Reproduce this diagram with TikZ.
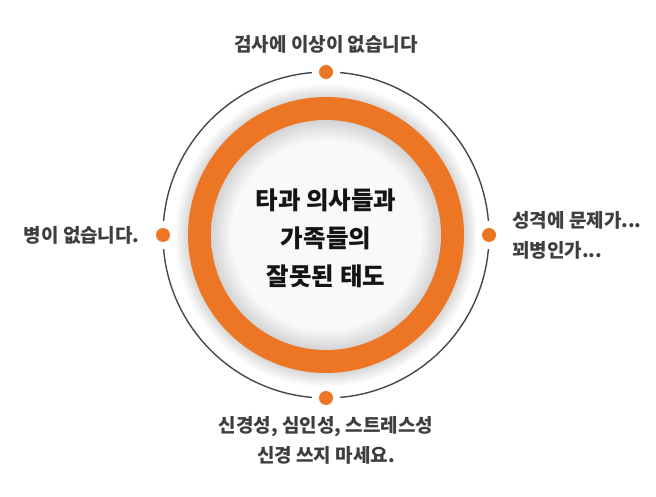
\documentclass[tikz,border=0pt]{standalone}
\usepackage{fontspec}
\setmainfont{Noto Sans CJK KR}
\usetikzlibrary{positioning}
\definecolor{ringorange}{RGB}{236,118,36}
\definecolor{labelgray}{RGB}{62,62,62}
\definecolor{innerwhite}{RGB}{249,249,251}
\pgfdeclareradialshading{innershade}{\pgfpoint{0bp}{0bp}}{color(0bp)=(innerwhite); color(20.5bp)=(innerwhite); color(25bp)=(black!15!innerwhite); color(50bp)=(black!15!innerwhite)}
\pgfdeclareradialshading{ringglow}{\pgfpoint{0bp}{0bp}}{color(0bp)=(black!16); color(22.6bp)=(black!16); color(25bp)=(white); color(50bp)=(white)}
\tikzstyle{dot} = [circle, fill = ringorange, minimum size=14pt, inner sep=0pt]
\tikzstyle{halo} = [circle, fill = white, minimum size=28pt, inner sep=0pt]
\tikzstyle{outtext} = [font=\fontsize{19}{30}\selectfont\bfseries, text=labelgray, inner sep=0pt]
\tikzstyle{maintext} = [font=\fontsize{24.5}{38}\selectfont\bfseries, text=black!92, align=center]

\begin{document}
\begin{tikzpicture}[x=1pt,y=-1pt]
	\useasboundingbox (0,0) rectangle (656,497);
	\coordinate (C) at (326,235);
	\shade[shading=ringglow] (C) circle (152pt);
	\draw[labelgray!95, line width=1.4pt] (C) circle (163pt);
	\fill[ringorange] (C) circle (138pt);
	\shade[shading=innershade] (C) circle (115pt);
	\node (MAIN) [maintext] at (326,238) {타과 의사들과\\가족들의\\잘못된 태도};
	
	\node (HT) [halo] at (326,72) {};
	\node (HB) [halo] at (326,398) {};
	\node (HL) [halo] at (163,235) {};
	\node (HR) [halo] at (489,235) {};
	\node (DT) [dot] at (HT) {};
	\node (DB) [dot] at (HB) {};
	\node (DL) [dot] at (HL) {};
	\node (DR) [dot] at (HR) {};
	
	\node (LT) [outtext, above=11pt of DT] {검사에 이상이 없습니다};
	\node (LB) [outtext, below=11pt of DB, align=center] {신경성, 심인성, 스트레스성\\신경 쓰지 마세요.};
	\node (LL) [outtext, left=16pt of DL] {병이 없습니다.};
	\node (LR) [outtext, right=16pt of DR, align=left] {성격에 문제가...\\꾀병인가...};
\end{tikzpicture}
\end{document}
